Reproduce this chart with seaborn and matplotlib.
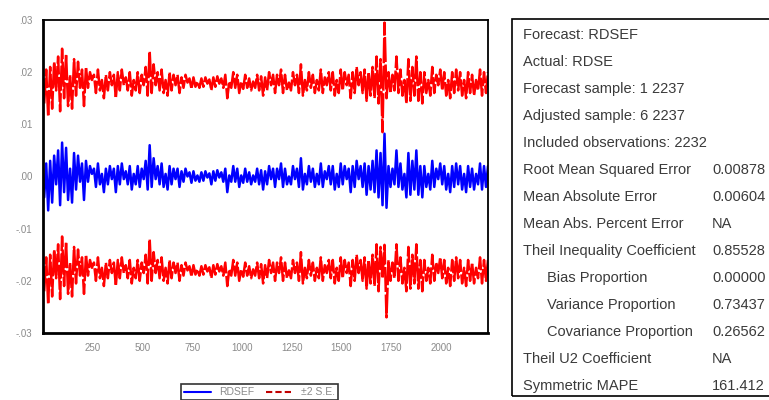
import numpy as np
import pandas as pd
import matplotlib
matplotlib.use('Agg')
import matplotlib.pyplot as plt
import seaborn as sns
from matplotlib.lines import Line2D
from matplotlib.patches import Rectangle

# Forecast RDSEF (in units of 0.001), one value per ~10 observations
forecast_milli = [
    -4.0, 2.5, -6.5, 3.0, -5.0, 4.0, -1.5, 5.0, -5.5, 6.5, -3.0, 5.5, -4.5, 1.5, -5.0, 4.5,
    -2.5, 4.0, -1.0, 2.5, -4.5, 3.0, -1.0, 2.0, 0.5, 1.5, -2.0, 2.5, -1.5, 0.5, -3.0, 1.5,
    -1.5, 2.0, -0.5, 1.5, -3.0, 2.0, -1.5, 2.5, -0.5, 1.0, -1.5, 2.0, -2.5, 0.5, -1.5, 2.0,
    -2.0, 1.5, -0.5, 3.0, -2.5, 6.0, -2.0, 3.5, -0.5, 2.0, -1.5, 2.5, -2.0, 0.5, -2.5, 2.0,
    -1.5, 1.5, -0.5, 1.5, -2.0, 1.0, -1.0, 1.5, 0.0, 0.8, -1.2, 1.0, -0.8, 0.2, -1.0, 0.8,
    -0.8, 1.0, -0.2, 0.6, -1.5, 1.0, -0.8, 1.2, -0.2, 0.8, -1.0, 1.5, -3.0, 0.2, -1.0, 2.0,
    -1.0, 1.5, -2.0, 0.2, -1.2, 1.5, -1.0, 0.8, -1.5, 0.2, -1.0, 1.5, -1.5, 1.2, -2.5, 1.0,
    -1.5, 2.0, -0.5, 1.5, -2.0, 1.5, -0.5, 2.5, -2.0, 1.5, -1.5, 0.0, -1.5, 2.0, -0.5, 1.5,
    -2.0, 3.5, -2.5, 0.5, -1.5, 2.0, -1.0, 1.5, -2.0, 0.5, -1.5, 2.5, -2.0, 1.0, -0.5, 2.0,
    -1.5, 2.0, -2.5, 0.5, -2.0, 2.5, -1.5, 2.0, -0.5, 1.5, -3.0, 2.0, -2.0, 3.0, -0.5, 2.0,
    -2.0, 2.5, -3.5, 2.0, -2.5, 3.0, -3.0, 5.0, -4.0, 4.5, -5.5, 8.2, -6.0, 2.0, -2.0, 1.5,
    -1.5, 5.0, -2.0, 2.5, -2.5, 0.5, -4.0, 4.5, -3.5, 3.0, -2.5, 5.0, -3.5, 2.0, -4.0, 2.0,
    -2.0, 0.5, -2.5, 3.0, -2.0, 1.5, -0.5, 2.5, -1.5, 2.0, -2.5, 0.5, -3.0, 2.0, -2.0, 2.5,
    -1.5, 2.0, -2.5, 0.5, -3.0, 2.0, -2.0, 1.5, -2.5, 0.5, -1.5, 2.5, -2.5, 2.0, -2.0, 2.0,
]
# two standard errors of the forecast (units of 0.001)
two_se_milli = [18.0] * 170 + [14.0, 21.3, 21.0] + [18.0] * 51

first_obs, last_obs = 6, 2237

x_ticks = [250, 500, 750, 1000, 1250, 1500, 1750, 2000]
y_ticks = [-0.03, -0.02, -0.01, 0.0, 0.01, 0.02, 0.03]
y_tick_labels = ['-.03', '-.02', '-.01', '.00', '.01', '.02', '.03']

header_lines = ['Forecast: RDSEF', 'Actual: RDSE', 'Forecast sample: 1 2237',
                'Adjusted sample: 6 2237', 'Included observations: 2232']
stat_labels = ['Root Mean Squared Error', 'Mean Absolute Error', 'Mean Abs. Percent Error',
               'Theil Inequality Coefficient', 'Bias Proportion', 'Variance Proportion',
               'Covariance Proportion', 'Theil U2 Coefficient', 'Symmetric MAPE']
stat_indent = [False, False, False, False, True, True, True, False, False]
# only the digits visible in the (cropped) reference
stat_values = ['0.00878', '0.00604', 'NA', '0.85528', '0.00000', '0.73437',
               '0.26562', 'NA', '161.412']

# build data frame
obs = np.linspace(first_obs, last_obs, len(forecast_milli))
f = np.array(forecast_milli) / 1000
se2 = np.array(two_se_milli) / 1000
df = pd.DataFrame({'obs': obs, 'RDSEF': f, 'upper': f + se2, 'lower': f - se2})

sns.set_style('white')
plt.rcParams['font.family'] = ['Liberation Sans', 'DejaVu Sans']

W, H = 769, 400
fig = plt.figure(figsize=(W / 100, H / 100), dpi=100)
ax = fig.add_axes([43 / W, 1 - 333 / H, (488 - 43) / W, (333 - 20) / H])

red = '#ff0000'
blue = '#0000ff'
sns.lineplot(data=df, x='obs', y='upper', ax=ax, color=red, lw=1.8,
             estimator=None, linestyle=(0, (10, 1)))
sns.lineplot(data=df, x='obs', y='lower', ax=ax, color=red, lw=1.8,
             estimator=None, linestyle=(0, (10, 1)))
sns.lineplot(data=df, x='obs', y='RDSEF', ax=ax, color=blue, lw=1.8, estimator=None)

ax.set_xlim(0, last_obs)
ax.set_ylim(-0.03, 0.03)
ax.set_xticks(x_ticks)
ax.set_xticks(np.arange(25, last_obs, 25), minor=True)
ax.set_yticks(y_ticks)
ax.set_yticklabels(y_tick_labels)
ax.set_xlabel('')
ax.set_ylabel('')
ax.tick_params(axis='both', which='major', direction='out', length=4, width=1.2,
               labelsize=7, labelcolor='#8a8a8a', color='black')
ax.tick_params(axis='x', which='minor', direction='out', length=2, width=1, color='black')
for s in ax.spines.values():
    s.set_visible(True)
    s.set_color('black')
    s.set_linewidth(1.3)
ax.spines['left'].set_linewidth(2)
ax.spines['bottom'].set_linewidth(2)

# legend below the plot
handles = [Line2D([], [], color=blue, lw=1.5),
           Line2D([], [], color='#c00000', lw=1.5, linestyle=(0, (3, 1.5)))]
leg = fig.legend(handles, ['RDSEF', '\u00b12 S.E.'], loc='upper left',
                 bbox_to_anchor=(176 / W, 1 - 379 / H), ncol=2, frameon=True,
                 fancybox=False, fontsize=7.5, handlelength=2.6, columnspacing=1.2,
                 borderpad=0.3, handletextpad=0.7)
leg.get_frame().set_edgecolor('black')
leg.get_frame().set_linewidth(1.2)
for t in leg.get_texts():
    t.set_color('#8a8a8a')

# forecast evaluation box on the right
fig.patches.append(Rectangle((512 / W, 1 - 396 / H), 300 / W, (396 - 19) / H,
                             transform=fig.transFigure, fill=False,
                             edgecolor='black', lw=1.2))
txt_color = '#3a3a3a'
y = 35
for line in header_lines:
    fig.text(523 / W, 1 - y / H, line, fontsize=10.5, color=txt_color, va='center')
    y += 27
for lab, ind, val in zip(stat_labels, stat_indent, stat_values):
    xl = 547 if ind else 523
    fig.text(xl / W, 1 - y / H, lab, fontsize=10.5, color=txt_color, va='center')
    fig.text(712 / W, 1 - y / H, val, fontsize=10.5, color=txt_color, va='center')
    y += 27

fig.savefig('out.png', dpi=100)
